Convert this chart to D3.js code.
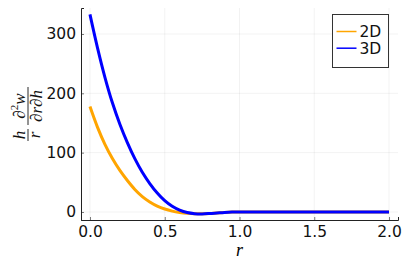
<!DOCTYPE html>
<html>
<head>
<meta charset="utf-8">
<script src="https://cdn.jsdelivr.net/npm/d3@7"></script>
<style>
    body { margin: 0; background: #fff; }
    svg { display: block; font-family: "DejaVu Sans", sans-serif; }
</style>
</head>
<body>
<div id="chart"></div>
<script>
// radius values (shared by both series)
const rValues = [0, 0.05, 0.1, 0.15, 0.2, 0.25, 0.3, 0.35, 0.4, 0.45, 0.5,
    0.55, 0.6, 0.65, 0.7, 0.75, 0.8, 0.85, 0.9, 0.95, 1.0, 1.25, 1.5, 1.75, 2.0];

// 2D series
const values2D = [177.6, 143, 114, 90, 70, 53, 38, 26, 17, 10, 5,
    1.5, -0.8, -2.3, -3, -3, -2.5, -1.6, -0.8, -0.2, 0, 0, 0, 0, 0];

// 3D series
const values3D = [333, 277, 227, 184, 148, 117, 90, 67, 48, 32, 19,
    9.5, 3, -1, -2.8, -3.2, -2.6, -1.7, -0.8, -0.2, 0, 0, 0, 0, 0];

const seriesNames = ["2D", "3D"];
const seriesColors = ["#FFA500", "#0000FF"];
const xTicks = [0, 0.5, 1.0, 1.5, 2.0];
const yTicks = [0, 100, 200, 300];

const svgWidth = 407;
const svgHeight = 271;
const margin = { top: 8, right: 9, bottom: 51, left: 81 };
const width = svgWidth - margin.left - margin.right;
const height = svgHeight - margin.top - margin.bottom;

const svg = d3.select("#chart")
    .append("svg")
    .attr("width", svgWidth)
    .attr("height", svgHeight);

const chartGroup = svg.append("g")
    .attr("transform", `translate(${margin.left},${margin.top})`);

// Scales
const xScale = d3.scaleLinear().domain([-0.06, 2.06]).range([0, width]);
const yScale = d3.scaleLinear().domain([-13.5, 343.8]).range([height, 0]);

// Grid lines
chartGroup.selectAll(".xgrid")
    .data(xTicks)
    .enter()
    .append("line")
    .attr("x1", d => xScale(d))
    .attr("x2", d => xScale(d))
    .attr("y1", 0)
    .attr("y2", height)
    .attr("stroke", "#000")
    .attr("stroke-opacity", 0.1)
    .attr("stroke-width", 0.5);

chartGroup.selectAll(".ygrid")
    .data(yTicks)
    .enter()
    .append("line")
    .attr("x1", 0)
    .attr("x2", width)
    .attr("y1", d => yScale(d))
    .attr("y2", d => yScale(d))
    .attr("stroke", "#000")
    .attr("stroke-opacity", 0.1)
    .attr("stroke-width", 0.5);

// Axes (ticks pointing inward)
const xAxis = chartGroup.append("g")
    .attr("transform", `translate(0,${height})`)
    .call(d3.axisBottom(xScale).tickValues(xTicks).tickFormat(d3.format(".1f"))
        .tickSize(-3).tickPadding(5));

const yAxis = chartGroup.append("g")
    .call(d3.axisLeft(yScale).tickValues(yTicks).tickFormat(d3.format("d"))
        .tickSize(-3).tickPadding(5));

[xAxis, yAxis].forEach(ax => {
    ax.select(".domain").attr("stroke", "#222").attr("stroke-width", 1);
    ax.selectAll(".tick line").attr("stroke", "#222").attr("stroke-opacity", 0.6);
    ax.selectAll(".tick text")
        .attr("fill", "#111")
        .attr("font-size", "15.5px")
        .attr("font-family", "DejaVu Sans, sans-serif");
});
xAxis.selectAll(".tick text").attr("dy", "0.75em");

// Lines
const line = d3.line()
    .x(d => xScale(d[0]))
    .y(d => yScale(d[1]))
    .curve(d3.curveCatmullRom.alpha(0.5));

[values2D, values3D].forEach((vals, i) => {
    chartGroup.append("path")
        .datum(rValues.map((r, j) => [r, vals[j]]))
        .attr("fill", "none")
        .attr("stroke", seriesColors[i])
        .attr("stroke-width", 3)
        .attr("stroke-linejoin", "round")
        .attr("d", line);
});

// Legend
const legend = svg.append("g").attr("transform", "translate(332.5,14.5)");
legend.append("rect")
    .attr("width", 56)
    .attr("height", 53)
    .attr("fill", "#fff")
    .attr("stroke", "#333")
    .attr("stroke-width", 1);

seriesNames.forEach((name, i) => {
    const y = 17 + i * 16.7;
    legend.append("line")
        .attr("x1", 4)
        .attr("x2", 24)
        .attr("y1", y)
        .attr("y2", y)
        .attr("stroke", seriesColors[i])
        .attr("stroke-width", 1.5);
    legend.append("text")
        .attr("x", 27)
        .attr("y", y + 5.5)
        .attr("font-size", "15.5px")
        .attr("fill", "#111")
        .text(name);
});

// X-axis Label
svg.append("text")
    .attr("x", margin.left + width / 2)
    .attr("y", 256)
    .attr("text-anchor", "middle")
    .attr("font-family", "Liberation Serif, serif")
    .attr("font-style", "italic")
    .attr("font-size", "18px")
    .text("r");

// Y-axis Label: (h / r) (∂²w / ∂r∂h), rotated
const yLabel = svg.append("g")
    .attr("transform", `translate(28,${margin.top + height / 2}) rotate(-90)`)
    .attr("font-family", "Liberation Serif, serif")
    .attr("font-style", "italic")
    .attr("font-size", "17px")
    .attr("fill", "#111");

yLabel.append("line")
    .attr("x1", -27).attr("x2", -15)
    .attr("y1", 0).attr("y2", 0)
    .attr("stroke", "#111").attr("stroke-width", 0.9);
yLabel.append("text").attr("x", -21).attr("y", -3)
    .attr("text-anchor", "middle").text("h");
yLabel.append("text").attr("x", -21).attr("y", 12)
    .attr("text-anchor", "middle").text("r");

yLabel.append("line")
    .attr("x1", -11).attr("x2", 27)
    .attr("y1", 0).attr("y2", 0)
    .attr("stroke", "#111").attr("stroke-width", 0.9);
const num = yLabel.append("text").attr("x", 8).attr("y", -3)
    .attr("text-anchor", "middle");
num.append("tspan").text("∂");
num.append("tspan").attr("dy", -7).attr("font-size", "11px").attr("font-style", "normal").text("2");
num.append("tspan").attr("dy", 7).text("w");
yLabel.append("text").attr("x", 8).attr("y", 14)
    .attr("text-anchor", "middle").text("∂r∂h");
</script>
</body>
</html>
